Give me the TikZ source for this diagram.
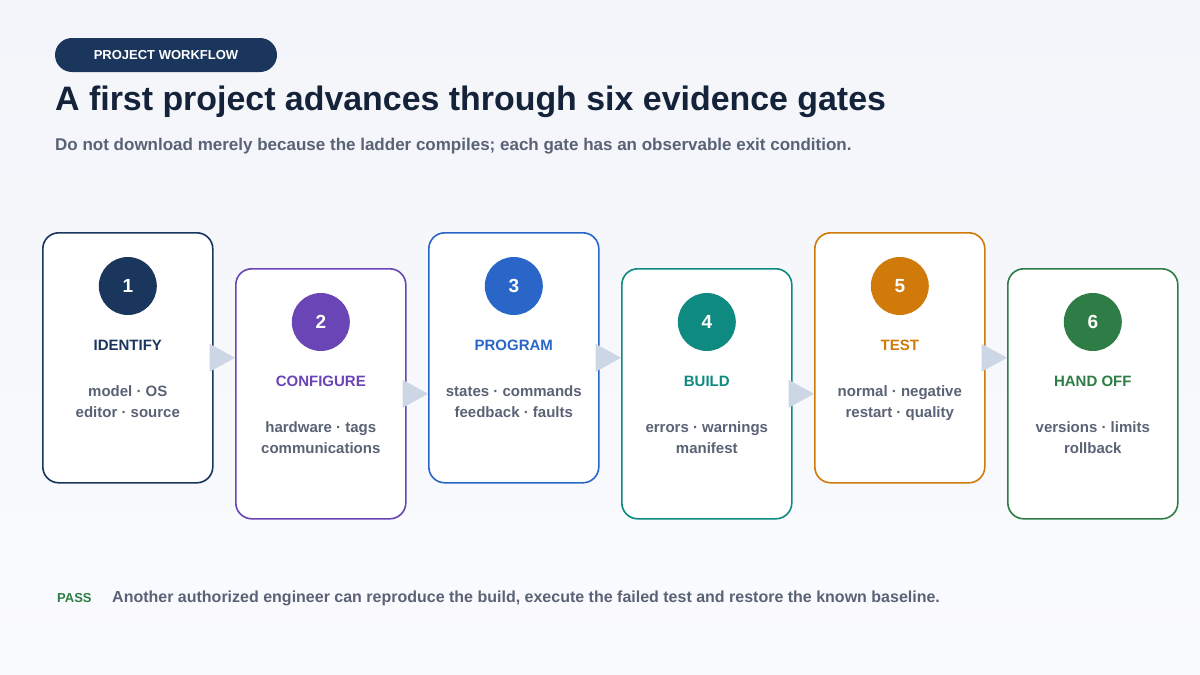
\documentclass[tikz,border=0pt]{standalone}
\usepackage{fontspec}
\setmainfont{Liberation Sans}
\usetikzlibrary{positioning,calc}
\definecolor{ink}{HTML}{14223A}
\definecolor{muted}{HTML}{5A6275}
\definecolor{navy}{HTML}{1B365D}
\definecolor{purp}{HTML}{6A45B5}
\definecolor{blu}{HTML}{2A66C8}
\definecolor{teal}{HTML}{0E8A80}
\definecolor{oran}{HTML}{D07A0A}
\definecolor{gren}{HTML}{2E7D46}
\definecolor{arrowfill}{HTML}{CDD6E4}
\definecolor{page}{HTML}{F3F5FA}
\tikzset{
  gate/.style={draw=#1, line width=1.6pt, fill=white, rounded corners=16pt,
    minimum width=170pt, minimum height=250pt, inner sep=0pt},
  badge/.style={circle, fill=#1, minimum size=58pt, inner sep=0pt,
    text=white, font=\bfseries\fontsize{19}{19}\selectfont},
  gname/.style={text=#1, font=\bfseries\fontsize{15}{15}\selectfont},
  gdetail/.style={text=muted, align=center, font=\bfseries\fontsize{15}{21.5}\selectfont},
}
\begin{document}
\begin{tikzpicture}[x=1pt, y=-1pt]
\useasboundingbox (0,0) rectangle (1200,675);
\shade[top color=page, bottom color=white!60!page] (0,0) rectangle (1200,675);
% header
\node[fill=navy, rounded corners=17pt, minimum width=222pt, minimum height=34pt,
  text=white, font=\bfseries\fontsize{13}{13}\selectfont] (tag) at (166,55) {PROJECT WORKFLOW};
\node[anchor=west, text=ink, font=\bfseries\fontsize{33.9}{33.9}\selectfont, inner sep=0pt] (title) at (55,102)
  {A first project advances through six evidence gates};
\node[anchor=west, text=muted, font=\bfseries\fontsize{17}{17}\selectfont, inner sep=0pt] (sub) at (55,146)
  {Do not download merely because the ladder compiles; each gate has an observable exit condition.};
% gates
\foreach \i/\c/\top/\name/\la/\lb in {
  1/navy/232/IDENTIFY/model · OS/editor · source,
  2/purp/268/CONFIGURE/hardware · tags/communications,
  3/blu/232/PROGRAM/states · commands/feedback · faults,
  4/teal/268/BUILD/errors · warnings/manifest,
  5/oran/232/TEST/normal · negative/restart · quality,
  6/gren/268/HAND OFF/versions · limits/rollback}{
  \node[gate=\c, anchor=north west] (g\i) at ({42+193*(\i-1)},\top) {};
  \node[badge=\c] (b\i) at ($(g\i.north)+(0,54)$) {\i};
  \node[gname=\c] (n\i) at ($(g\i.north)+(0,113)$) {\name};
  \node[gdetail, anchor=north] (d\i) at ($(g\i.north)+(0,150)$) {\la\\\lb};
}
% arrows
\foreach \i [evaluate=\i as \j using int(\i+1)] in {1,...,5}{
  \fill[arrowfill] ($(g\i.east)+(-4,-14)$) -- ($(g\i.east)+(-4,14)$) -- (g\i.east -| g\j.west) -- cycle;
}
% footer
\node[anchor=west, text=gren, font=\bfseries\fontsize{13}{13}\selectfont, inner sep=0pt] (pass) at (57,598) {PASS};
\node[anchor=west, text=muted, font=\bfseries\fontsize{16}{16}\selectfont, inner sep=0pt] (note) at (112,598)
  {Another authorized engineer can reproduce the build, execute the failed test and restore the known baseline.};
\end{tikzpicture}
\end{document}
